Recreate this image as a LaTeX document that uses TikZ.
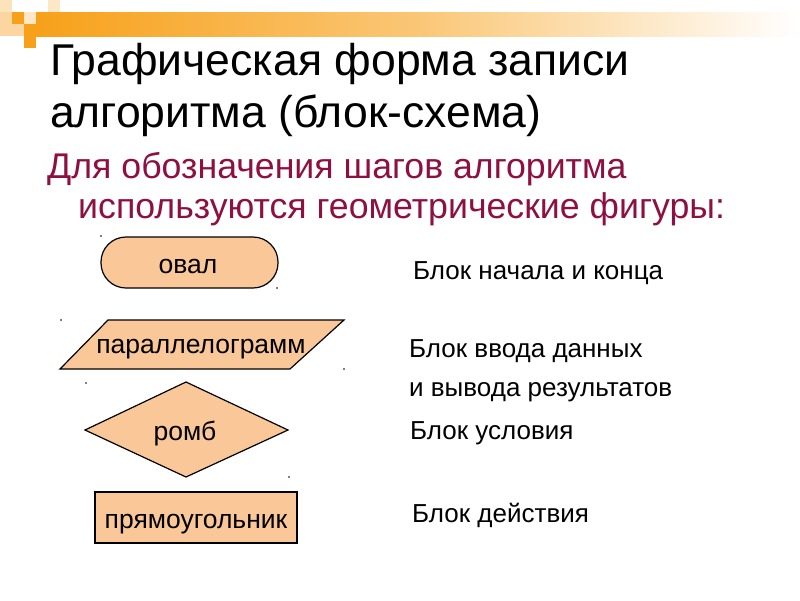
\documentclass[tikz,border=0pt]{standalone}
\usepackage{fontspec}
\setmainfont{Liberation Sans}
\usetikzlibrary{shapes.geometric,shapes.misc}
\definecolor{peach}{HTML}{FAC898}
\definecolor{maroon}{HTML}{8E1042}
\definecolor{orng}{HTML}{F7A11A}
\definecolor{lorng}{HTML}{FCD6A0}
\begin{document}
\begin{tikzpicture}[x=1pt,y=-1pt,
  shapebox/.style={draw=black,line width=1.2pt,fill=peach,inner sep=0pt},
  shapelabel/.style={anchor=base,inner sep=0pt,font=\fontsize{26.5}{30}\selectfont},
  title/.style={anchor=base west,inner sep=0pt,font=\fontsize{44.5}{52}\selectfont},
  sub/.style={anchor=base west,inner sep=0pt,text=maroon,font=\fontsize{35.7}{40}\selectfont},
  desc/.style={anchor=base west,inner sep=0pt,font=\fontsize{26}{30}\selectfont},
  handle/.style={fill=black,inner sep=0pt,minimum size=1.6pt,circle}]
\useasboundingbox (0,0) rectangle (800,600);
% decoration
\shade[left color=orng,right color=white,middle color=orng!60] (36,12) rectangle (800,36);
\fill[lorng!70] (0,0) rectangle (12,12);
\fill[lorng!60] (48,0) rectangle (60,12);
\fill[lorng] (0,12) rectangle (12,36);
\fill[orng] (12,12) rectangle (24,24);
\fill[lorng] (12,24) rectangle (24,36);
\fill[lorng!60] (24,12) rectangle (36,24);
\fill[orng] (24,24) rectangle (36,48);
% titles
\node[title] (t1) at (50,75) {Графическая форма записи};
\node[title] (t2) at (50,127) {алгоритма (блок-схема)};
\node[sub] (s1) at (47,178) {Для обозначения шагов алгоритма};
\node[sub] (s2) at (78,218) {используются геометрические фигуры:};
% shapes
\draw[shapebox] (101,237) [rounded corners=25pt] rectangle (278,288);
\node[shapelabel] (oval) at (188,273) {овал};
\draw[shapebox] (108,320) -- (344,320) -- (290,369) -- (60,369) -- cycle;
\node[shapelabel] (par) at (201,353) {параллелограмм};
\draw[shapebox] (85,430) -- (186,382) -- (288,430) -- (186,477) -- cycle;
\node[shapelabel] (romb) at (185,440) {ромб};
\draw[shapebox] (95,492) rectangle (297,543);
\node[shapelabel] (rect) at (196,528) {прямоугольник};
% handles
\node[handle] (h1) at (101,236) {};
\node[handle] (h2) at (277,288) {};
\node[handle] (h3) at (61,320) {};
\node[handle] (h4) at (344,369) {};
\node[handle] (h5) at (86,383) {};
\node[handle] (h6) at (289,477) {};
% descriptions
\node[desc] (d1) at (413,279) {Блок начала и конца};
\node[desc] (d2) at (409,357) {Блок ввода данных};
\node[desc] (d3) at (409,396) {и вывода результатов};
\node[desc] (d4) at (410,439) {Блок условия};
\node[desc] (d5) at (412,522) {Блок действия};
\end{tikzpicture}
\end{document}
